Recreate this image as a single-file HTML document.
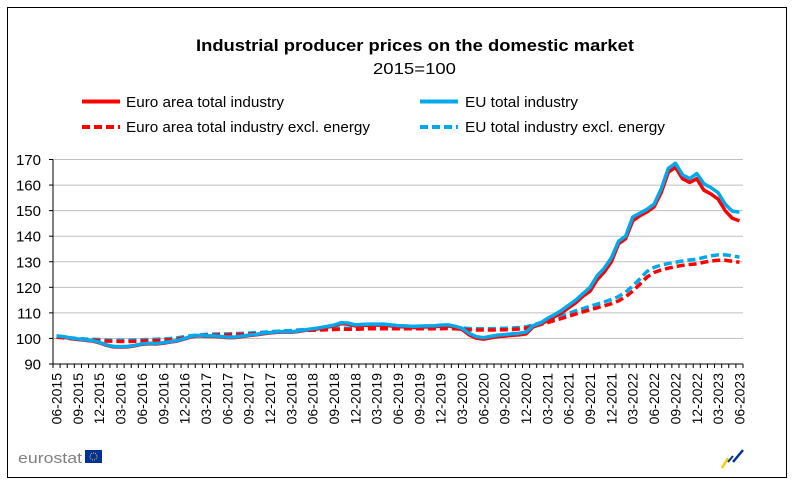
<!DOCTYPE html>
<html><head><meta charset="utf-8"><style>
body{margin:0;background:#fff;}
svg{display:block;font-family:"Liberation Sans",Arial,sans-serif;}
</style></head><body>
<svg id="chart" width="799" height="483" viewBox="0 0 799 483">
<rect x="7.5" y="7.5" width="779" height="470" fill="#fff" stroke="#000" stroke-width="1"/>
<text x="196" y="51" font-size="17" font-weight="bold" fill="#000" textLength="438" lengthAdjust="spacingAndGlyphs">Industrial producer prices on the domestic market</text>
<text x="373" y="74" font-size="16" fill="#000" textLength="83" lengthAdjust="spacingAndGlyphs">2015=100</text>
<g>
<g><line x1="82" y1="101.5" x2="120" y2="101.5" stroke="#ff0000" stroke-width="4"/><text x="126" y="107" font-size="15" textLength="158" lengthAdjust="spacingAndGlyphs">Euro area total industry</text></g>
<g><line x1="82" y1="127" x2="120" y2="127" stroke="#ff0000" stroke-width="4" stroke-dasharray="8,4"/><text x="126" y="132" font-size="15" textLength="244" lengthAdjust="spacingAndGlyphs">Euro area total industry excl. energy</text></g>
<g><line x1="420" y1="101.5" x2="458" y2="101.5" stroke="#00a8ec" stroke-width="4"/><text x="465" y="107" font-size="15" textLength="113" lengthAdjust="spacingAndGlyphs">EU total industry</text></g>
<g><line x1="420" y1="127" x2="458" y2="127" stroke="#00a8ec" stroke-width="4" stroke-dasharray="8,4"/><text x="465" y="132" font-size="15" textLength="200" lengthAdjust="spacingAndGlyphs">EU total industry excl. energy</text></g>
</g>
<g id="grid"></g><g id="axes"></g><g id="series"></g>
<g>
<text x="18" y="463" font-size="15" fill="#808080" textLength="64" lengthAdjust="spacingAndGlyphs">eurostat</text>
<rect x="85" y="450" width="17" height="13" fill="#003399"/>
<circle cx="93.5" cy="456.5" r="3.5" fill="none" stroke="#ffcc00" stroke-width="1" stroke-dasharray="1,1"/>
</g>
<g>
<line x1="722" y1="468" x2="728" y2="458" stroke="#ffcc00" stroke-width="2.5"/>
<line x1="728" y1="462" x2="733" y2="456" stroke="#003399" stroke-width="2"/>
<line x1="733" y1="462" x2="743" y2="450" stroke="#003399" stroke-width="2.5"/>
</g>
</svg>
<script>
const yTicks=[90,100,110,120,130,140,150,160,170];
const xLabels=["06-2015","09-2015","12-2015","03-2016","06-2016","09-2016","12-2016","03-2017","06-2017","09-2017","12-2017","03-2018","06-2018","09-2018","12-2018","03-2019","06-2019","09-2019","12-2019","03-2020","06-2020","09-2020","12-2020","03-2021","06-2021","09-2021","12-2021","03-2022","06-2022","09-2022","12-2022","03-2023","06-2023"];
const eaTotal=[100.8,100.5,100.0,99.6,99.3,99.0,98.3,
97.3,96.7,96.6,96.7,97.1,97.7,97.9,97.8,98.1,98.6,99.0,99.8,
100.7,101.0,100.8,100.8,100.6,100.3,100.3,100.7,101.1,101.4,101.8,102.1,
102.4,102.5,102.4,102.7,103.2,103.5,103.9,104.4,104.9,105.8,105.6,104.9,
105.1,105.2,105.2,105.2,104.9,104.6,104.5,104.3,104.4,104.5,104.5,104.8,
104.9,104.4,103.5,101.4,100.1,99.7,100.2,100.7,100.9,101.2,101.4,101.8,
104.5,105.5,107.0,108.5,110.0,112.0,114.0,116.5,118.5,123.0,126.0,130.0,
137.0,139.0,146.0,148.0,149.5,151.5,157.0,165.0,167.0,162.5,161.0,162.5,
158.0,156.5,154.5,150.0,147.0,146.0];
const euTotal=[101.0,100.7,100.2,99.8,99.5,99.2,98.5,
97.5,96.9,96.8,96.9,97.3,97.9,98.1,98.0,98.3,98.8,99.2,100.0,
100.9,101.2,101.0,101.0,100.8,100.5,100.5,100.9,101.3,101.6,102.0,102.3,
102.6,102.7,102.6,102.9,103.4,103.8,104.2,104.7,105.2,106.2,106.0,105.3,
105.5,105.6,105.6,105.6,105.3,105.0,104.9,104.7,104.8,104.9,104.9,105.2,
105.3,104.8,104.0,102.0,100.7,100.3,100.8,101.3,101.5,101.8,102.0,102.5,
105.0,106.0,107.8,109.3,111.0,113.0,115.0,117.5,120.0,124.5,127.5,131.5,
138.0,140.0,147.5,149.0,150.5,152.5,158.5,166.5,168.5,164.0,162.5,164.5,
160.5,159.0,157.0,152.5,149.8,149.4];
const eaExcl=[100.5,100.2,99.9,99.7,99.5,99.4,99.2,
99.0,98.9,98.8,98.8,98.9,99.0,99.1,99.2,99.3,99.5,99.8,100.2,
100.7,101.0,101.2,101.3,101.4,101.4,101.5,101.6,101.7,101.9,102.0,102.2,
102.4,102.6,102.7,102.9,103.1,103.2,103.3,103.4,103.5,103.6,103.6,103.6,
103.7,103.8,103.8,103.8,103.8,103.8,103.8,103.8,103.8,103.8,103.8,103.8,
103.9,103.8,103.6,103.4,103.3,103.3,103.3,103.3,103.4,103.5,103.7,104.0,
104.6,105.4,106.2,107.0,107.8,108.7,109.6,110.4,111.2,112.0,112.8,113.6,
114.7,116.3,118.5,121.2,124.0,125.8,126.8,127.5,128.1,128.6,128.9,129.2,
129.8,130.3,130.6,130.6,130.2,129.8];
const euExcl=[100.8,100.5,100.2,100.0,99.8,99.7,99.6,
99.4,99.3,99.3,99.3,99.4,99.5,99.6,99.7,99.8,100.0,100.3,100.7,
101.1,101.4,101.6,101.7,101.8,101.8,101.9,102.0,102.1,102.3,102.4,102.6,
102.8,103.0,103.1,103.3,103.5,103.6,103.7,103.8,103.9,104.0,104.0,104.0,
104.1,104.2,104.2,104.2,104.2,104.2,104.2,104.2,104.2,104.2,104.2,104.3,
104.4,104.3,104.1,103.9,103.8,103.8,103.8,103.9,104.0,104.1,104.3,104.6,
105.3,106.1,107.0,107.9,108.8,109.8,110.8,111.7,112.6,113.4,114.3,115.2,
116.4,118.1,120.5,123.3,126.2,127.8,128.7,129.3,129.8,130.3,130.7,131.0,
131.7,132.3,132.7,132.7,132.3,131.8];

const NS="http://www.w3.org/2000/svg";
const X0=53,X1=743,Y0=364,Y1=159.5,VMIN=90,VMAX=170;
const N=eaTotal.length;
const cw=(X1-X0)/N;
function xs(i){return X0+cw*(i+0.5);}
function ys(v){return Y0-(v-VMIN)/(VMAX-VMIN)*(Y0-Y1);}
function mk(tag,attrs,parent){const e=document.createElementNS(NS,tag);for(const k in attrs)e.setAttribute(k,attrs[k]);parent.appendChild(e);return e;}
const grid=document.getElementById('grid'),axes=document.getElementById('axes'),ser=document.getElementById('series');
yTicks.forEach(v=>{
  if(v>VMIN){const g=mk('line',{x1:X0,x2:X1,y1:ys(v),y2:ys(v),stroke:'#bfbfbf','stroke-width':1},grid);
  
  }
  const t=mk('line',{x1:X0-4,x2:X0,y1:ys(v),y2:ys(v),stroke:'#000'},axes);
  
  
  const l=mk('text',{x:X0-12,y:ys(v)+5.5,'text-anchor':'end','font-size':15},axes);
  l.textContent=v;
  
  
});
const ya=mk('line',{x1:X0,x2:X0,y1:Y1,y2:Y0,stroke:'#000'},axes);


const xa=mk('line',{x1:X0,x2:X1,y1:Y0,y2:Y0,stroke:'#000'},axes);


for(let i=0;i<=N;i++){const t=mk('line',{x1:X0+cw*i,x2:X0+cw*i,y1:Y0,y2:Y0+4,stroke:'#000'},axes);
  
  }
xLabels.forEach((s,k)=>{const x=xs(k*3);
  const l=mk('text',{x:0,y:0,'text-anchor':'end','font-size':14,transform:`translate(${x+5},${Y0+9}) rotate(-90)`},axes);
  l.textContent=s;
  
  });
function line(data,color,dash,name){
  const d=data.map((v,i)=>(i?'L':'M')+xs(i).toFixed(2)+','+ys(v).toFixed(2)).join(' ');
  const p=mk('path',{d:d,fill:'none',stroke:color,'stroke-width':3.5,'stroke-linejoin':'round'},ser);
  if(dash)p.setAttribute('stroke-dasharray','8,4');
  
  
}
line(euExcl,'#00a8ec',true,'eu-excl-energy-line');
line(eaExcl,'#ff0000',true,'ea-excl-energy-line');
line(eaTotal,'#ff0000',false,'ea-total-line');
line(euTotal,'#00a8ec',false,'eu-total-line');
</script>
</body></html>
